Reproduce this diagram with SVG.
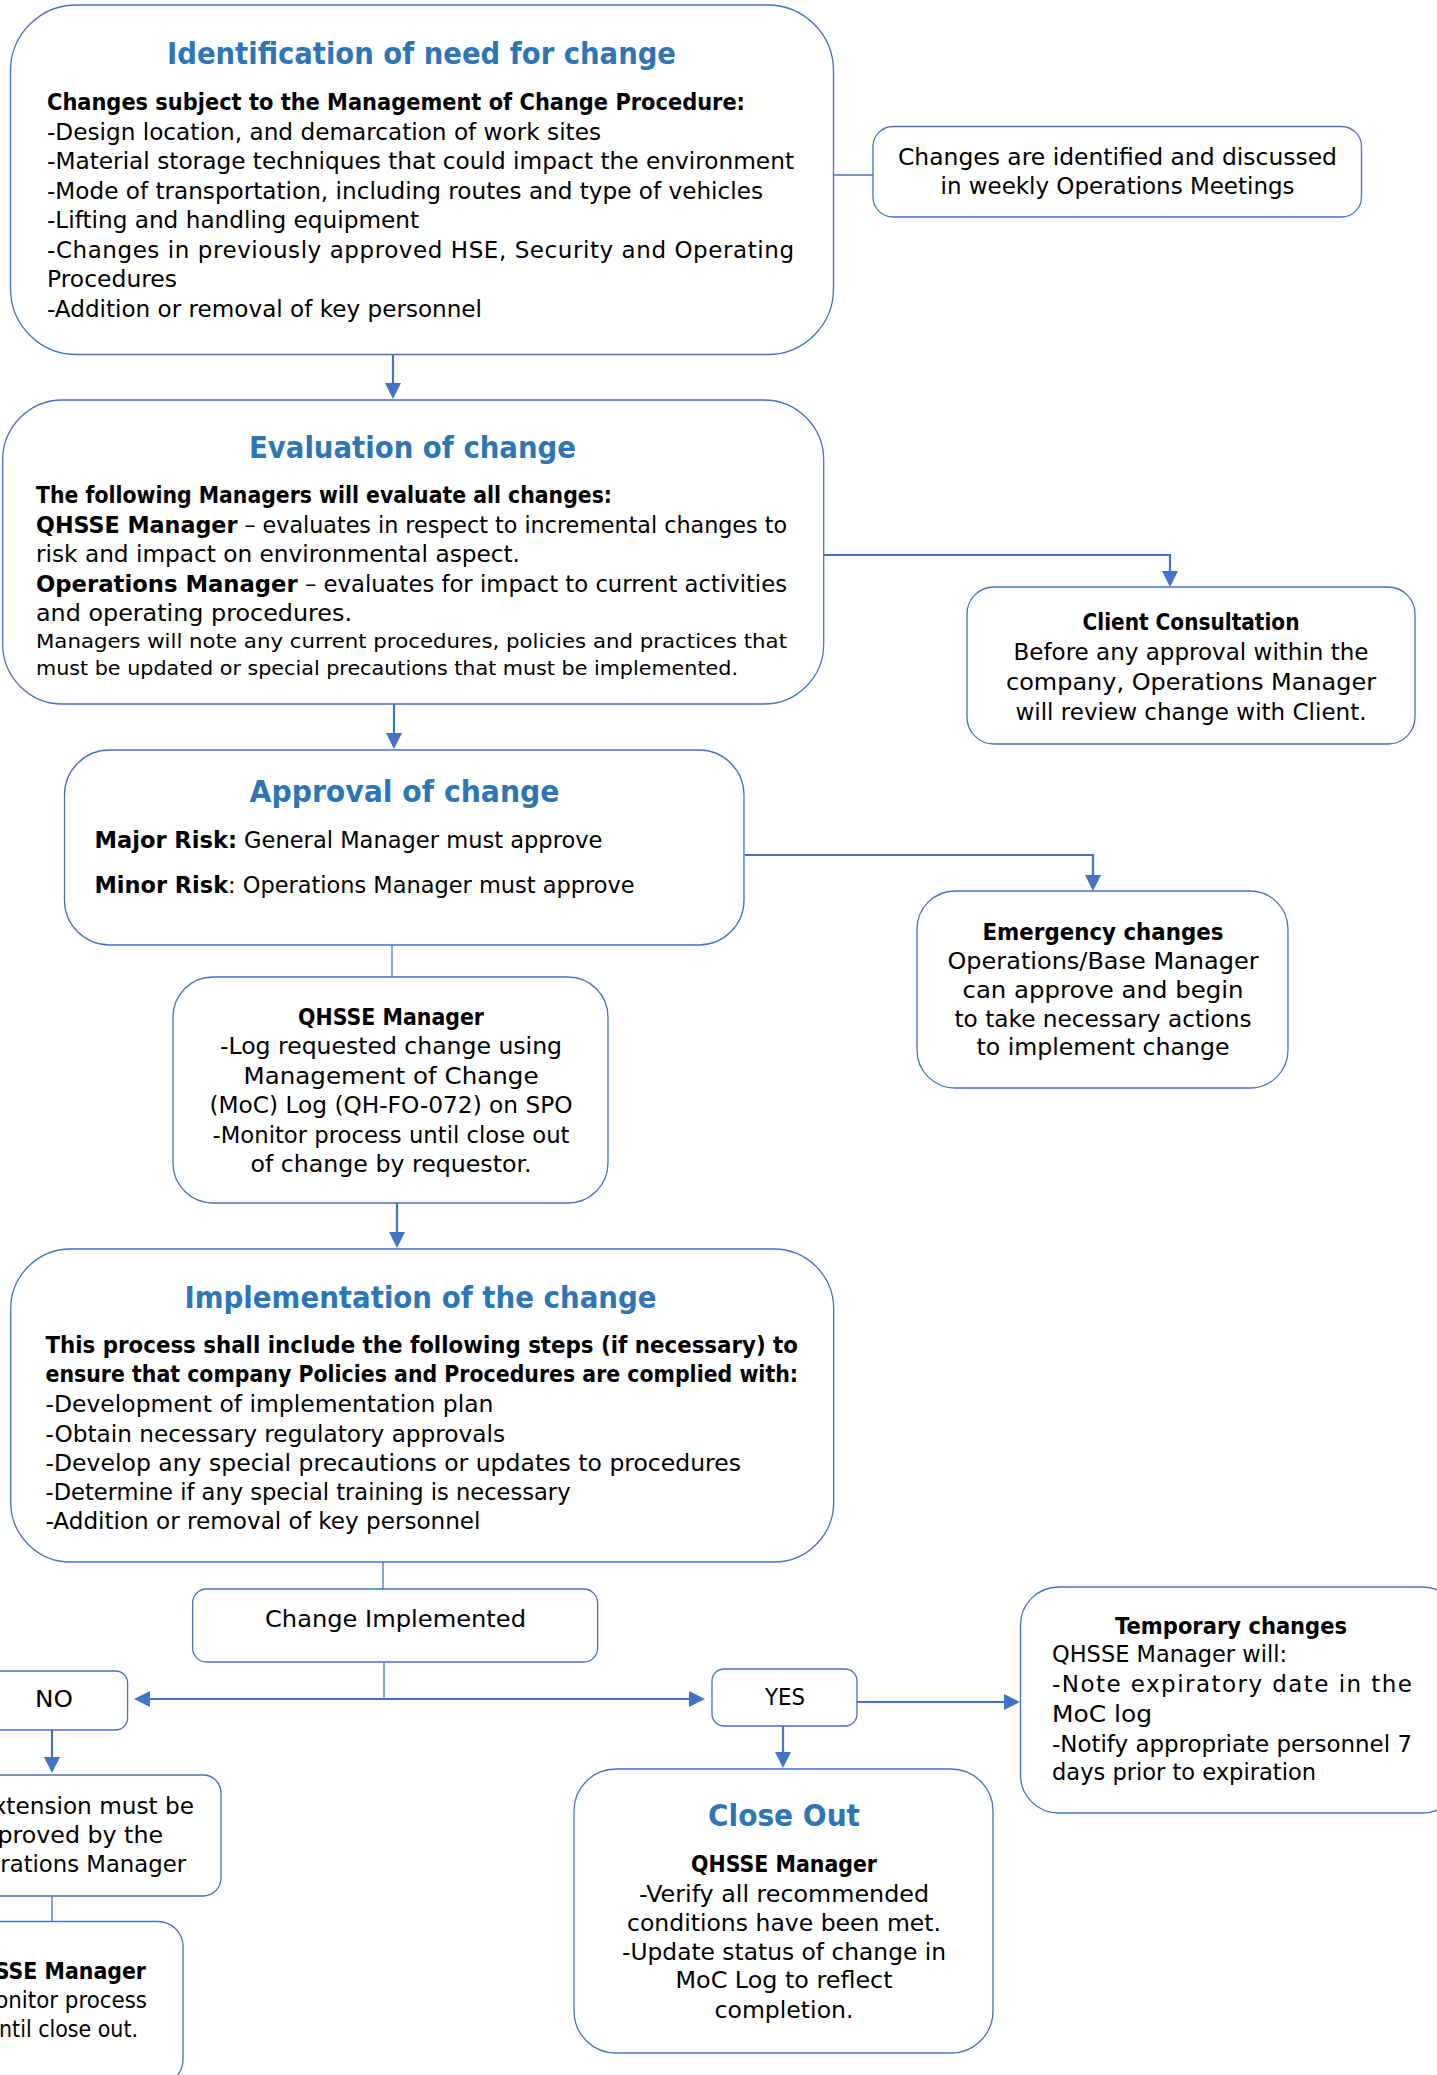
<svg xmlns="http://www.w3.org/2000/svg" width="1437" height="2075" viewBox="0 0 1437 2075">
<defs>
<style>
.box{fill:#fff;stroke:#4472C4;stroke-width:1.3}
.t{font-family:"DejaVu Sans","Liberation Sans",sans-serif;font-size:23px;fill:#000}
.b{font-weight:bold}
.ti{font-family:"DejaVu Sans","Liberation Sans",sans-serif;font-size:30px;font-weight:bold;fill:#2E75B6}
.c{text-anchor:middle}
.e{text-anchor:end}
.sm{font-size:20px}
.con{fill:none;stroke:#4472C4;stroke-width:2.2}
.thin{fill:none;stroke:#4472C4;stroke-width:1.3}
</style>
<marker id="arr" markerUnits="userSpaceOnUse" markerWidth="16" markerHeight="16" viewBox="0 0 16 16" refX="13" refY="8" orient="auto-start-reverse"><path d="M0,0 L16,8 L0,16 z" fill="#4472C4"/></marker>
</defs>
<rect width="1437" height="2075" fill="#fff"/>

<g id="connectors">
<path class="thin" d="M833.5,175 H873"/>
<path class="con" d="M393,355 V396" marker-end="url(#arr)"/>
<path class="con" d="M824,555 H1170 V584" marker-end="url(#arr)"/>
<path class="con" d="M394,704 V746" marker-end="url(#arr)"/>
<path class="con" d="M745,855 H1093 V888" marker-end="url(#arr)"/>
<path class="thin" d="M392,945 V977"/>
<path class="con" d="M397,1203 V1245" marker-end="url(#arr)"/>
<path class="thin" d="M383,1562 V1589"/>
<path class="thin" d="M384,1662 V1699"/>
<path class="con" d="M137,1699 H702" marker-start="url(#arr)" marker-end="url(#arr)"/>
<path class="con" d="M857,1702 H1017" marker-end="url(#arr)"/>
<path class="con" d="M52,1730 V1770" marker-end="url(#arr)"/>
<path class="con" d="M783,1726 V1765" marker-end="url(#arr)"/>
<path class="thin" d="M52,1896 V1922"/>
</g>

<g id="identification">
<rect class="box" x="10.5" y="5" width="823" height="349.5" rx="66"/>
<text class="ti c" x="421.5" y="64" textLength="509" lengthAdjust="spacingAndGlyphs">Identification of need for change</text>
<text class="t b" x="47" y="110" textLength="698" lengthAdjust="spacingAndGlyphs">Changes subject to the Management of Change Procedure:</text>
<text class="t" x="47" y="139.5" textLength="554" lengthAdjust="spacingAndGlyphs">-Design location, and demarcation of work sites</text>
<text class="t" x="47" y="169" textLength="747" lengthAdjust="spacingAndGlyphs">-Material storage techniques that could impact the environment</text>
<text class="t" x="47" y="198.5" textLength="716" lengthAdjust="spacingAndGlyphs">-Mode of transportation, including routes and type of vehicles</text>
<text class="t" x="47" y="228" textLength="372" lengthAdjust="spacingAndGlyphs">-Lifting and handling equipment</text>
<text class="t" x="47" y="257.5" textLength="747" lengthAdjust="spacing">-Changes in previously approved HSE, Security and Operating</text>
<text class="t" x="47" y="287" textLength="130" lengthAdjust="spacingAndGlyphs">Procedures</text>
<text class="t" x="47" y="316.5" textLength="435" lengthAdjust="spacingAndGlyphs">-Addition or removal of key personnel</text>
</g>

<g id="weekly-meetings">
<rect class="box" x="873" y="126.5" width="488.5" height="90.5" rx="20"/>
<text class="t c" x="1117.5" y="165" textLength="439" lengthAdjust="spacingAndGlyphs">Changes are identified and discussed</text>
<text class="t c" x="1117.5" y="194" textLength="354" lengthAdjust="spacingAndGlyphs">in weekly Operations Meetings</text>
</g>

<g id="evaluation">
<rect class="box" x="2.7" y="400" width="821" height="304" rx="60"/>
<text class="ti c" x="412.5" y="458" textLength="327" lengthAdjust="spacingAndGlyphs">Evaluation of change</text>
<text class="t b" x="36" y="503" textLength="576" lengthAdjust="spacingAndGlyphs">The following Managers will evaluate all changes:</text>
<text class="t" x="36" y="533" textLength="751" lengthAdjust="spacingAndGlyphs"><tspan class="b">QHSSE Manager</tspan> – evaluates in respect to incremental changes to</text>
<text class="t" x="36" y="562" textLength="484" lengthAdjust="spacingAndGlyphs">risk and impact on environmental aspect.</text>
<text class="t" x="36" y="592" textLength="751" lengthAdjust="spacingAndGlyphs"><tspan class="b">Operations Manager</tspan> – evaluates for impact to current activities</text>
<text class="t" x="36" y="621" textLength="316" lengthAdjust="spacingAndGlyphs">and operating procedures.</text>
<text class="t sm" x="36" y="648" textLength="751" lengthAdjust="spacingAndGlyphs">Managers will note any current procedures, policies and practices that</text>
<text class="t sm" x="36" y="675" textLength="702" lengthAdjust="spacingAndGlyphs">must be updated or special precautions that must be implemented.</text>
</g>

<g id="client-consultation">
<rect class="box" x="967" y="587" width="448" height="157" rx="27"/>
<text class="t b c" x="1191" y="630" textLength="217" lengthAdjust="spacingAndGlyphs">Client Consultation</text>
<text class="t c" x="1191" y="660" textLength="355" lengthAdjust="spacingAndGlyphs">Before any approval within the</text>
<text class="t c" x="1191" y="690" textLength="370" lengthAdjust="spacingAndGlyphs">company, Operations Manager</text>
<text class="t c" x="1191" y="720" textLength="351" lengthAdjust="spacingAndGlyphs">will review change with Client.</text>
</g>

<g id="approval">
<rect class="box" x="64.5" y="750" width="679.5" height="195" rx="45"/>
<text class="ti c" x="404.5" y="802" textLength="310" lengthAdjust="spacingAndGlyphs">Approval of change</text>
<text class="t" x="94.5" y="848" textLength="508" lengthAdjust="spacingAndGlyphs"><tspan class="b">Major Risk:</tspan> General Manager must approve</text>
<text class="t" x="94.5" y="893" textLength="540" lengthAdjust="spacingAndGlyphs"><tspan class="b">Minor Risk</tspan>: Operations Manager must approve</text>
</g>

<g id="emergency-changes">
<rect class="box" x="917" y="891" width="371" height="197" rx="38"/>
<text class="t b c" x="1103" y="940" textLength="241" lengthAdjust="spacingAndGlyphs">Emergency changes</text>
<text class="t c" x="1103" y="969" textLength="311" lengthAdjust="spacingAndGlyphs">Operations/Base Manager</text>
<text class="t c" x="1103" y="998" textLength="281" lengthAdjust="spacingAndGlyphs">can approve and begin</text>
<text class="t c" x="1103" y="1027" textLength="297" lengthAdjust="spacingAndGlyphs">to take necessary actions</text>
<text class="t c" x="1103" y="1055" textLength="253" lengthAdjust="spacingAndGlyphs">to implement change</text>
</g>

<g id="qhsse-log">
<rect class="box" x="173" y="977" width="435" height="226" rx="40"/>
<text class="t b c" x="391" y="1025" textLength="186" lengthAdjust="spacingAndGlyphs">QHSSE Manager</text>
<text class="t c" x="391" y="1054.4" textLength="342" lengthAdjust="spacingAndGlyphs">-Log requested change using</text>
<text class="t c" x="391" y="1083.8" textLength="295" lengthAdjust="spacingAndGlyphs">Management of Change</text>
<text class="t c" x="391" y="1113.2" textLength="363" lengthAdjust="spacingAndGlyphs">(MoC) Log (QH-FO-072) on SPO</text>
<text class="t c" x="391" y="1142.6" textLength="357" lengthAdjust="spacingAndGlyphs">-Monitor process until close out</text>
<text class="t c" x="391" y="1172" textLength="281" lengthAdjust="spacingAndGlyphs">of change by requestor.</text>
</g>

<g id="implementation">
<rect class="box" x="10.7" y="1249" width="823" height="313" rx="60"/>
<text class="ti c" x="420.5" y="1308" textLength="472" lengthAdjust="spacingAndGlyphs">Implementation of the change</text>
<text class="t b" x="45.5" y="1353" textLength="752.5" lengthAdjust="spacingAndGlyphs">This process shall include the following steps (if necessary) to</text>
<text class="t b" x="45.5" y="1382" textLength="752.5" lengthAdjust="spacingAndGlyphs">ensure that company Policies and Procedures are complied with:</text>
<text class="t" x="45.5" y="1412" textLength="448" lengthAdjust="spacingAndGlyphs">-Development of implementation plan</text>
<text class="t" x="45.5" y="1442" textLength="459.5" lengthAdjust="spacingAndGlyphs">-Obtain necessary regulatory approvals</text>
<text class="t" x="45.5" y="1471" textLength="695.5" lengthAdjust="spacingAndGlyphs">-Develop any special precautions or updates to procedures</text>
<text class="t" x="45.5" y="1500" textLength="525" lengthAdjust="spacingAndGlyphs">-Determine if any special training is necessary</text>
<text class="t" x="45.5" y="1529" textLength="435" lengthAdjust="spacingAndGlyphs">-Addition or removal of key personnel</text>
</g>

<g id="change-implemented">
<rect class="box" x="192.6" y="1589" width="405" height="73" rx="14"/>
<text class="t c" x="395.5" y="1627" textLength="261" lengthAdjust="spacingAndGlyphs">Change Implemented</text>
</g>

<g id="no">
<rect class="box" x="-40" y="1671" width="167.6" height="59" rx="12"/>
<text class="t c" x="54" y="1707" textLength="38" lengthAdjust="spacingAndGlyphs">NO</text>
</g>

<g id="yes">
<rect class="box" x="712" y="1669" width="145" height="57" rx="12"/>
<text class="t c" x="785" y="1705" textLength="40" lengthAdjust="spacingAndGlyphs">YES</text>
</g>

<g id="temporary-changes">
<rect class="box" x="1020.5" y="1587" width="440" height="226" rx="38"/>
<text class="t b c" x="1231" y="1634" textLength="232" lengthAdjust="spacingAndGlyphs">Temporary changes</text>
<text class="t" x="1052" y="1662" textLength="235" lengthAdjust="spacingAndGlyphs">QHSSE Manager will:</text>
<text class="t" x="1052" y="1692" textLength="360" lengthAdjust="spacing">-Note expiratory date in the</text>
<text class="t" x="1052" y="1722" textLength="100" lengthAdjust="spacingAndGlyphs">MoC log</text>
<text class="t" x="1052" y="1752" textLength="360" lengthAdjust="spacingAndGlyphs">-Notify appropriate personnel 7</text>
<text class="t" x="1052" y="1780" textLength="264" lengthAdjust="spacingAndGlyphs">days prior to expiration</text>
</g>

<g id="close-out">
<rect class="box" x="574" y="1769" width="419" height="284" rx="42"/>
<text class="ti c" x="784" y="1826" textLength="152" lengthAdjust="spacingAndGlyphs">Close Out</text>
<text class="t b c" x="784" y="1872" textLength="186" lengthAdjust="spacingAndGlyphs">QHSSE Manager</text>
<text class="t c" x="784" y="1902" textLength="290" lengthAdjust="spacingAndGlyphs">-Verify all recommended</text>
<text class="t c" x="784" y="1931" textLength="314" lengthAdjust="spacingAndGlyphs">conditions have been met.</text>
<text class="t c" x="784" y="1960" textLength="324" lengthAdjust="spacingAndGlyphs">-Update status of change in</text>
<text class="t c" x="784" y="1988" textLength="217" lengthAdjust="spacingAndGlyphs">MoC Log to reflect</text>
<text class="t c" x="784" y="2018" textLength="139" lengthAdjust="spacingAndGlyphs">completion.</text>
</g>

<g id="extension">
<rect class="box" x="-100" y="1775" width="321" height="121" rx="18"/>
<text class="t e" x="194" y="1814" textLength="216" lengthAdjust="spacingAndGlyphs">Extension must be</text>
<text class="t e" x="163" y="1843" textLength="195" lengthAdjust="spacingAndGlyphs">approved by the</text>
<text class="t e" x="186" y="1872" textLength="232" lengthAdjust="spacingAndGlyphs">Operations Manager</text>
</g>

<g id="qhsse-monitor">
<rect class="box" x="-100" y="1921.5" width="283" height="163" rx="25"/>
<text class="t b e" x="146" y="1979" textLength="186" lengthAdjust="spacingAndGlyphs">QHSSE Manager</text>
<text class="t e" x="147" y="2008" textLength="178" lengthAdjust="spacingAndGlyphs">-Monitor process</text>
<text class="t e" x="138" y="2037" textLength="152" lengthAdjust="spacingAndGlyphs">until close out.</text>
</g>
</svg>
